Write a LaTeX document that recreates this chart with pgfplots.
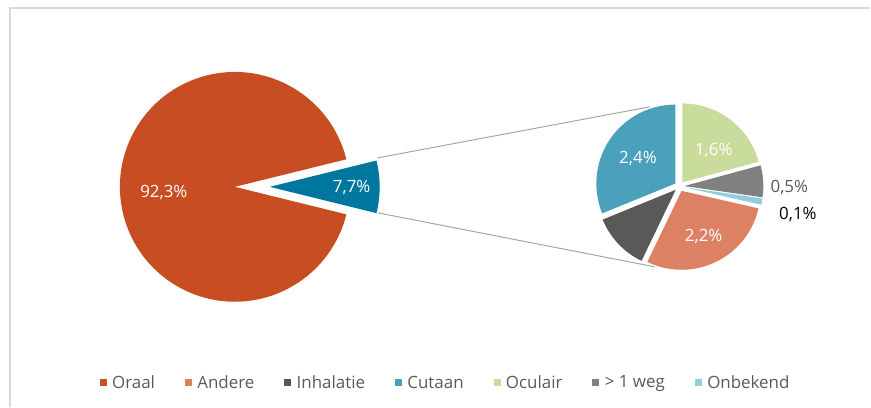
\documentclass[border=0pt]{standalone}
\usepackage{fontspec}
\setmainfont{Open Sans}
\usepackage{pgfplots}
\usepackage{pgfplotstable}
\pgfplotsset{compat=1.18}

\definecolor{cOraal}{HTML}{C94D22}
\definecolor{cRest}{HTML}{00779E}
\definecolor{cAnd}{HTML}{DC8163}
\definecolor{cInh}{HTML}{595959}
\definecolor{cCut}{HTML}{4BA0BC}
\definecolor{cOcul}{HTML}{CADC9C}
\definecolor{cWeg}{HTML}{808080}
\definecolor{cOnb}{HTML}{93CDDD}
\definecolor{txt}{HTML}{595959}

\newcommand\lbl{\fontsize{17}{20}\selectfont}

% secondary pie, clockwise from the top
% lr = label distance, la = label angle shift, lc = label colour
\pgfplotstableread{
name      value col   lr  la  lc
Oculair   1.6   cOcul 50  -6  white
Weg       0.5   cWeg  110 -4  txt
Onbekend  0.1   cOnb  122 -3  black
Andere    2.2   cAnd  56  0   white
Inhalatie 0.9   cInh  0   0   none
Cutaan    2.4   cCut  50  0   white
}\subpie

\pgfkeys{/pgf/number format/assume math mode=true}

\begin{document}
\begin{tikzpicture}
\begin{axis}[
    width=871bp, height=407bp, scale only axis,
    xmin=0, xmax=871, ymin=0, ymax=407,
    hide axis, clip=false,
    legend columns=7,
    legend style={at={(axis cs:446,24)}, anchor=center, draw=none, fill=none,
        font=\fontsize{17}{20}\selectfont\color{txt},
        /tikz/every even column/.append style={column sep=28bp},
        /tikz/every odd column/.append style={column sep=4bp}},
    legend image code/.code={\fill[#1] (-3bp,-3bp) rectangle (3bp,3bp);},
]
\path (axis cs:0,0) rectangle (axis cs:871,407);
% frame
\draw[black!15, line width=1.5bp] (axis cs:10,0) -- (axis cs:10,399) -- (axis cs:871,399);

% connector lines
\draw[black!35, line width=1bp] (axis cs:378,249) -- (axis cs:650,300);
\draw[black!35, line width=1bp] (axis cs:378,194) -- (axis cs:655,140);

% main pie
\pgfmathsetmacro\h{7.7/100*360/2}
\fill[cOraal] (axis cs:235,220) -- ++(\h:115bp)
    arc[start angle=\h, end angle=360-\h, radius=115bp] -- cycle;
\fill[cRest] (axis cs:270,220) -- ++(-\h:110bp)
    arc[start angle=-\h, end angle=\h, radius=110bp] -- cycle;
\node[font=\lbl, text=white] at (axis cs:164,214) {92,3\%};
\node[font=\lbl, text=white] at (axis cs:352,219) {7,7\%};

% secondary pie
\def\acc{90}
\pgfplotsforeachungrouped \i in {0,...,5}{
  \pgfplotstablegetelem{\i}{value}\of{\subpie}\let\v=\pgfplotsretval
  \pgfplotstablegetelem{\i}{col}\of{\subpie}\let\c=\pgfplotsretval
  \pgfplotstablegetelem{\i}{lr}\of{\subpie}\let\lr=\pgfplotsretval
  \pgfplotstablegetelem{\i}{la}\of{\subpie}\let\la=\pgfplotsretval
  \pgfplotstablegetelem{\i}{lc}\of{\subpie}\let\lc=\pgfplotsretval
  \pgfmathsetmacro\aS{\acc}
  \pgfmathsetmacro\aE{\acc-\v/7.7*360}
  \pgfmathsetmacro\aM{(\aS+\aE)/2}
  \pgfmathsetmacro\ox{680+5*cos(\aM)}
  \pgfmathsetmacro\oy{220.5+5*sin(\aM)}
  \pgfmathsetmacro\lx{680+\lr*cos(\aM+\la)}
  \pgfmathsetmacro\ly{220.5+\lr*sin(\aM+\la)}
  \edef\tmp{\noexpand\fill[\c] (axis cs:\ox,\oy) -- ++(\aS:79bp)
      arc[start angle=\aS, end angle=\aE, radius=79bp] -- cycle;}
  \tmp
  \ifdim\lr pt>0pt
    \edef\tmp{\noexpand\node[font=\noexpand\lbl, text=\lc]
      at (axis cs:\lx,\ly) {\noexpand\pgfmathprintnumber[fixed,zerofill,precision=1,use comma]{\v}\noexpand\%};}
    \tmp
  \fi
  \let\acc=\aE
}

\addlegendimage{cOraal}\addlegendentry{Oraal}
\addlegendimage{cAnd}\addlegendentry{Andere}
\addlegendimage{cInh}\addlegendentry{Inhalatie}
\addlegendimage{cCut}\addlegendentry{Cutaan}
\addlegendimage{cOcul}\addlegendentry{Oculair}
\addlegendimage{cWeg}\addlegendentry{> 1 weg}
\addlegendimage{cOnb}\addlegendentry{Onbekend}
\end{axis}
\end{tikzpicture}
\end{document}
